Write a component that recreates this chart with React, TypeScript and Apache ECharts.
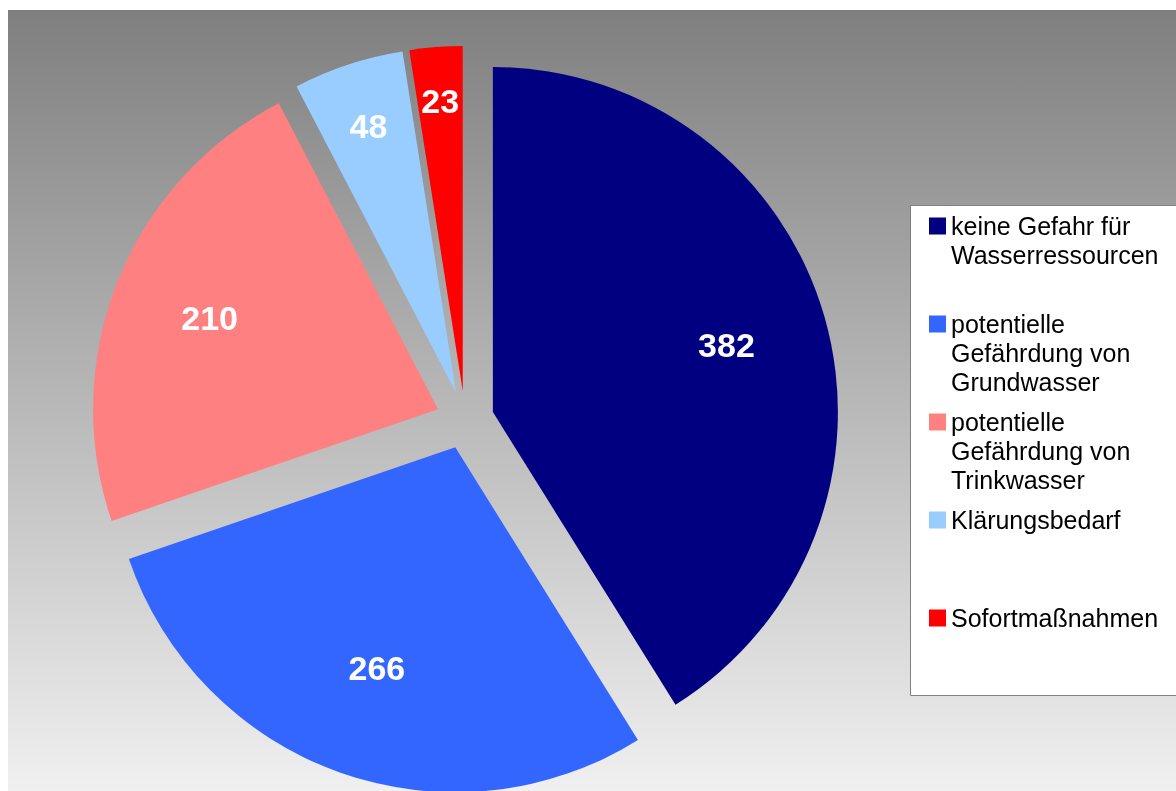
import React, { useEffect, useRef } from "react";
import * as echarts from "echarts";

const categories = [
  "keine Gefahr für Wasserressourcen",
  "potentielle Gefährdung von Grundwasser",
  "potentielle Gefährdung von Trinkwasser",
  "Klärungsbedarf",
  "Sofortmaßnahmen",
];
const legendLabels = [
  "keine Gefahr für\nWasserressourcen",
  "potentielle\nGefährdung von\nGrundwasser",
  "potentielle\nGefährdung von\nTrinkwasser",
  "Klärungsbedarf",
  "Sofortmaßnahmen",
];
const values = [382, 266, 210, 48, 23];
const colors = ["#000080", "#3366FF", "#FF8080", "#99CCFF", "#FF0000"];

const FONT = 'Arial, "Liberation Sans", sans-serif';
const CX = 465;
const CY = 420;
const R = 345;
const OFFSET = 29;

export default function App() {
  const ref = useRef<HTMLDivElement>(null);

  useEffect(() => {
    if (!ref.current) return;
    const chart = echarts.init(ref.current, null, { renderer: "svg" });

    const makeData = (labelIdx: number[] | null, transparent: boolean) =>
      values.map((v, i) => ({
        value: v,
        name: categories[i],
        selected: true,
        itemStyle: { color: transparent ? "rgba(0,0,0,0)" : colors[i] },
        label: { show: labelIdx ? labelIdx.includes(i) : false },
      }));

    const common = {
      type: "pie",
      center: [CX, CY],
      startAngle: 90,
      clockwise: true,
      selectedMode: "multiple",
      selectedOffset: OFFSET,
      avoidLabelOverlap: false,
      minShowLabelAngle: 0,
      labelLine: { show: false },
      emphasis: { disabled: true },
      itemStyle: { borderWidth: 0 },
      select: { itemStyle: { borderWidth: 0 } },
    };

    const labelStyle = {
      position: "inside",
      color: "#ffffff",
      fontSize: 34,
      fontWeight: "bold",
      fontFamily: FONT,
      formatter: "{c}",
    };

    // label-only rings: [indices, mid-radius of ring]
    const labelGroups: [number[], number][] = [
      [[0], 240],
      [[2], 243],
      [[1], 231],
      [[3], 277],
      [[4], 288],
    ];

    const series: any[] = [
      {
        ...common,
        radius: R,
        data: makeData(null, false),
        label: { show: false },
      },
      ...labelGroups.map(([idx, mid]) => ({
        ...common,
        silent: true,
        radius: [2 * mid - R, R],
        data: makeData(idx, true),
        label: labelStyle,
      })),
    ];

    const legendItems: any[] = [];
    legendLabels.forEach((t, i) => {
      const cy = 226 + i * 98;
      legendItems.push({
        type: "rect",
        z: 11,
        shape: { x: 929, y: cy - 8.5, width: 17, height: 17 },
        style: { fill: colors[i] },
      });
      legendItems.push({
        type: "text",
        z: 11,
        x: 951,
        y: cy - 14.5,
        style: {
          text: t,
          font: `25px ${FONT}`,
          fill: "#000000",
          lineHeight: 29,
          verticalAlign: "top",
          align: "left",
        },
      });
    });

    chart.setOption({
      animation: false,
      graphic: [
        {
          type: "rect",
          z: -10,
          shape: { x: 8, y: 10, width: 1168, height: 781 },
          style: {
            fill: new echarts.graphic.LinearGradient(0, 0, 0, 1, [
              { offset: 0, color: "#7f7f7f" },
              { offset: 1, color: "#f0f0f0" },
            ]),
          },
        },
        {
          type: "rect",
          z: 10,
          shape: { x: 910.5, y: 205.5, width: 300, height: 490 },
          style: { fill: "#ffffff", stroke: "#808080", lineWidth: 1 },
        },
        ...legendItems,
      ],
      series,
    });

    return () => chart.dispose();
  }, []);

  return (
    <div
      ref={ref}
      style={{ position: "fixed", left: 0, top: 0, width: 1176, height: 791 }}
    />
  );
}
